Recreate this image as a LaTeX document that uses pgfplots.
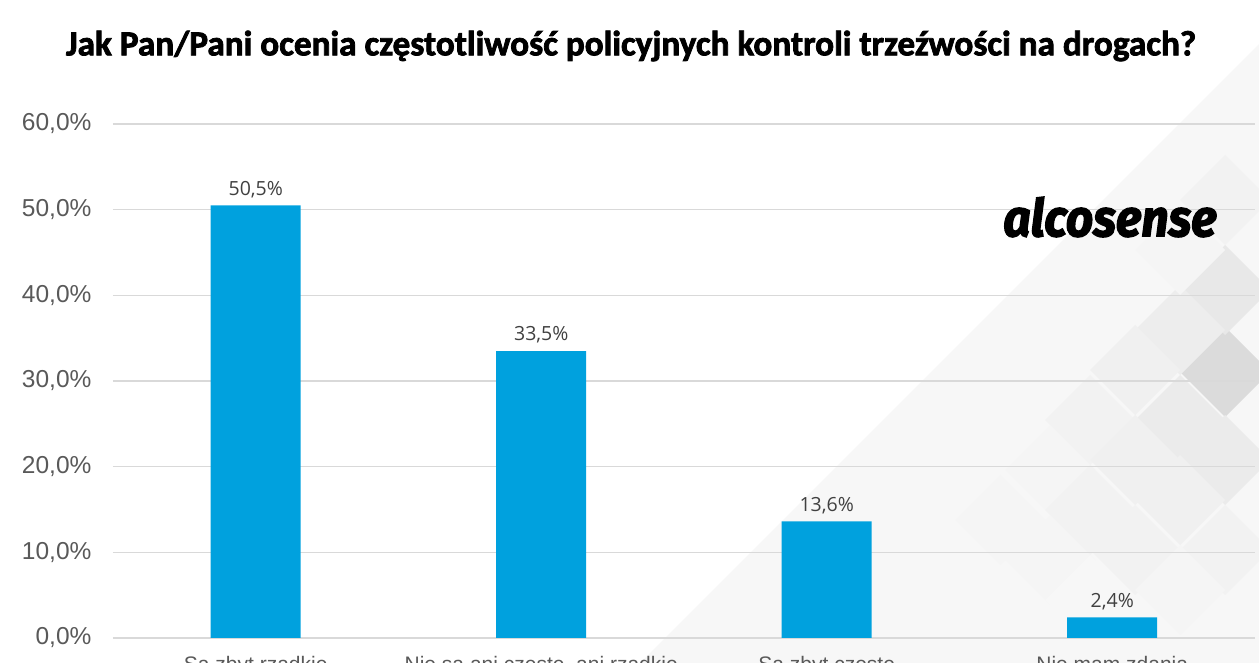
\documentclass[border=0pt]{standalone}
\usepackage{fontspec}
\setmainfont{Liberation Sans}
\newfontfamily\titlefont{Carlito}[FakeBold=2.2]
\newfontfamily\labelfont{Open Sans}
\newfontfamily\logofont{Fira Sans}[FakeBold=2.5, FakeStretch=0.92]
\usepackage{pgfplots}
\pgfplotsset{compat=1.18}
\definecolor{barblue}{RGB}{0,161,222}
\definecolor{gridgray}{RGB}{217,217,217}
\definecolor{tickgray}{RGB}{89,89,89}
\definecolor{valgray}{RGB}{64,64,64}
% NOTE: in the reference the x-axis category labels are cut off at the bottom edge
% (only the tops of the letters show), so the label texts below are GUESSES and are
% not read from the image. Only "Nie mam zdania" fits the visible letter tops well.
% The picture is cropped the same way as the reference, so these labels show only partly.
\begin{document}
\begin{tikzpicture}[x=1pt,y=1pt]
% decorative background
\fill[black!3] (640,0) -- (1259,619) -- (1259,0) -- cycle;
\foreach \cx/\cy/\shade in {1225/372/14,1225/290/9,1180/330/7,1135/370/6,1180/420/8,1090/420/5,1135/460/6,1050/470/4,1090/510/5,1000/520/4,1050/560/4,1225/460/8,1180/500/6,1225/550/5,1135/550/5,960/570/3,1180/590/4,1090/600/3,1225/200/5,1180/250/4}{
  \fill[black!\shade] (\cx,663-\cy+45) -- (\cx+45,663-\cy) -- (\cx,663-\cy-45) -- (\cx-45,663-\cy) -- cycle;
}
\begin{axis}[
  at={(113pt,25pt)}, anchor=south west,
  scale only axis, width=1142pt, height=514pt,
  xmin=-0.5, xmax=3.5, ymin=0, ymax=60,
  ytick={0,10,20,30,40,50,60},
  xtick={0,1,2,3},
  xticklabels={Są zbyt rzadkie, {Nie są ani częste, ani rzadkie}, Są zbyt częste, Nie mam zdania},
  ymajorgrids, grid style={draw=gridgray, line width=1.3pt},
  axis line style={draw=none},
  major tick length=0pt,
  /pgf/number format/assume math mode=true,
  yticklabel={\pgfmathprintnumber[fixed,fixed zerofill,precision=1,use comma]{\tick}\%},
  yticklabel style={font=\fontsize{24.5}{24.5}\selectfont, text=tickgray, xshift=-18pt},
  xticklabel style={font=\fontsize{21}{21}\selectfont, text=tickgray, yshift=-15pt},
  ybar, bar width=90pt,
  nodes near coords={\pgfmathprintnumber[fixed,fixed zerofill,precision=1,use comma]{\pgfplotspointmeta}\%},
  nodes near coords style={font=\labelfont\fontsize{19.5}{19.5}\selectfont, text=valgray, anchor=south, yshift=4pt},
  clip=false,
]
\addplot[fill=barblue, draw=none] coordinates {(0,50.5) (1,33.5) (2,13.6) (3,2.4)};
\end{axis}
\node at (631,617) {\titlefont\bfseries\fontsize{35.2}{35.2}\selectfont Jak Pan/Pani ocenia częstotliwość policyjnych kontroli trzeźwości na drogach?};
\node at (1110,446) {\logofont\bfseries\itshape\fontsize{52}{52}\selectfont alcosense};
\pgfresetboundingbox
\useasboundingbox (0,0) rectangle (1259,663);
\end{tikzpicture}
\end{document}
